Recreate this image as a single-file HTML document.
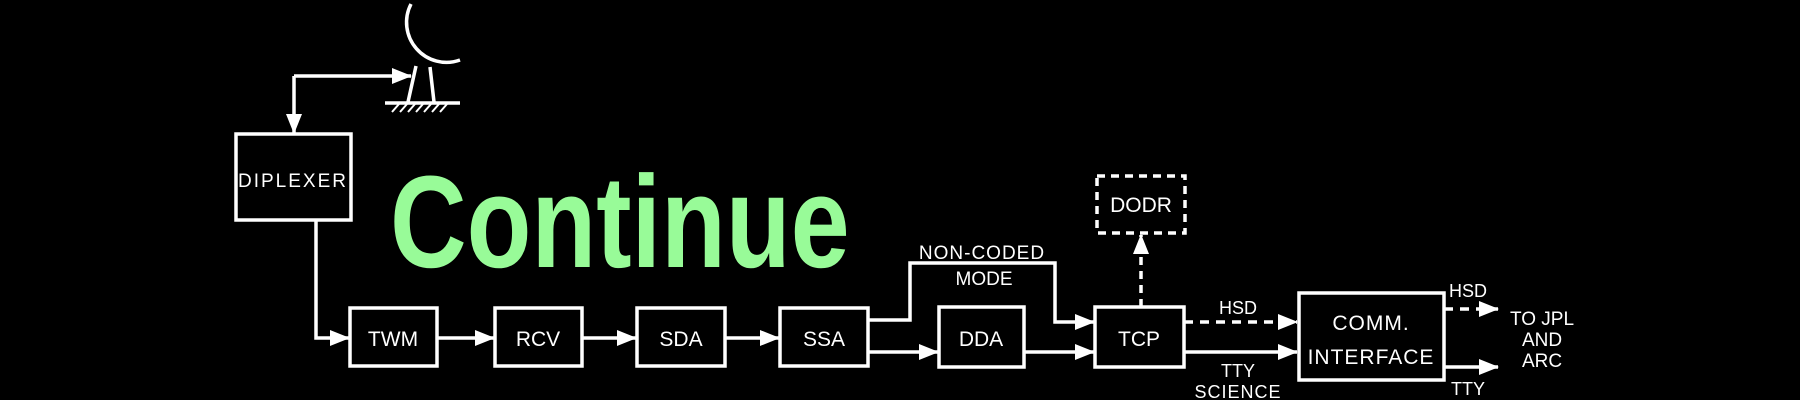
<!DOCTYPE html>
<html><head><meta charset="utf-8"><style>
html,body{margin:0;padding:0;background:#000;}
svg{display:block;}
text{font-family:"Liberation Sans",sans-serif;fill:#fff;}
</style></head><body>
<svg width="1800" height="400" viewBox="0 0 1800 400" xmlns="http://www.w3.org/2000/svg">
<defs>
<marker id="b" markerWidth="20" markerHeight="16" refX="19" refY="8" orient="auto" markerUnits="userSpaceOnUse">
<path d="M0,0 L20,8 L0,16 z" fill="#fff"/></marker>
</defs>
<g stroke="#fff" stroke-width="3.5" fill="none">
<!-- antenna -->
<path d="M411,4 A40,40 0 0,0 460,60"/>
<path d="M416,66 L408,102 M430,67 L434,102"/>
<path d="M385,103 L460,103" />
<path d="M392,112 L399,104 M400,112 L407,104 M408,112 L415,104 M416,112 L423,104 M424,112 L431,104 M432,112 L439,104 M440,112 L447,104" stroke-width="2"/>
<path d="M294,76 L411,76" marker-end="url(#b)"/>
<path d="M294,76 L294,133" marker-end="url(#b)"/>
<!-- diplexer -->
<rect x="236" y="134" width="115" height="86"/>
<path d="M316,220 L316,338 L349,338" marker-end="url(#b)"/>
<!-- chain boxes -->
<rect x="350" y="308" width="87" height="58"/>
<rect x="495" y="308" width="87" height="58"/>
<rect x="637" y="308" width="88" height="58"/>
<rect x="780" y="308" width="88" height="58"/>
<path d="M437,338 L494,338" marker-end="url(#b)"/>
<path d="M582,338 L636,338" marker-end="url(#b)"/>
<path d="M725,338 L779,338" marker-end="url(#b)"/>
<!-- SSA outputs -->
<path d="M868,320 L910,320 L910,263 L1055,263 L1055,322 L1094,322" marker-end="url(#b)"/>
<path d="M868,352 L938,352" marker-end="url(#b)"/>
<rect x="939" y="307" width="85" height="60"/>
<path d="M1024,352 L1094,352" marker-end="url(#b)"/>
<rect x="1095" y="307" width="89" height="60"/>
<!-- DODR -->
<rect x="1097" y="176" width="88" height="57" stroke-dasharray="8,6"/>
<path d="M1141,307 L1141,235" stroke-dasharray="8,6" marker-end="url(#b)"/>
<!-- TCP to COMM -->
<path d="M1184,322 L1297,322" stroke-dasharray="9,7" marker-end="url(#b)"/>
<path d="M1184,352 L1297,352" marker-end="url(#b)"/>
<rect x="1299" y="293" width="145" height="87"/>
<path d="M1444,309 L1498,309" stroke-dasharray="9,7" marker-end="url(#b)"/>
<path d="M1444,367 L1498,367" marker-end="url(#b)"/>
</g>
<text x="293" y="187" font-size="19" text-anchor="middle" letter-spacing="2">DIPLEXER</text>
<text x="393" y="346" font-size="21" text-anchor="middle">TWM</text>
<text x="538" y="346" font-size="21" text-anchor="middle">RCV</text>
<text x="681" y="346" font-size="21" text-anchor="middle">SDA</text>
<text x="824" y="346" font-size="21" text-anchor="middle">SSA</text>
<text x="981" y="346" font-size="21" text-anchor="middle">DDA</text>
<text x="1139" y="346" font-size="21" text-anchor="middle">TCP</text>
<text x="1141" y="212" font-size="21" text-anchor="middle">DODR</text>
<text x="982" y="259" font-size="19" text-anchor="middle" letter-spacing="1">NON-CODED</text>
<text x="984" y="285" font-size="19" text-anchor="middle">MODE</text>
<text x="1238" y="314" font-size="18" text-anchor="middle">HSD</text>
<text x="1238" y="377" font-size="18" text-anchor="middle">TTY</text>
<text x="1238" y="398" font-size="18" text-anchor="middle" letter-spacing="1">SCIENCE</text>
<text x="1371" y="330" font-size="21" text-anchor="middle" letter-spacing="1">COMM.</text>
<text x="1371" y="364" font-size="21" text-anchor="middle" letter-spacing="1">INTERFACE</text>
<text x="1468" y="297" font-size="18" text-anchor="middle">HSD</text>
<text x="1468" y="395" font-size="18" text-anchor="middle">TTY</text>
<text x="1542" y="325" font-size="19" text-anchor="middle">TO JPL</text>
<text x="1542" y="346" font-size="19" text-anchor="middle">AND</text>
<text x="1542" y="367" font-size="19" text-anchor="middle">ARC</text>
<text x="0" y="0" font-size="131" font-weight="bold" style="fill:#98fb98" transform="translate(390,267) scale(0.81,1)">Continue</text>
</svg>
</body></html>
